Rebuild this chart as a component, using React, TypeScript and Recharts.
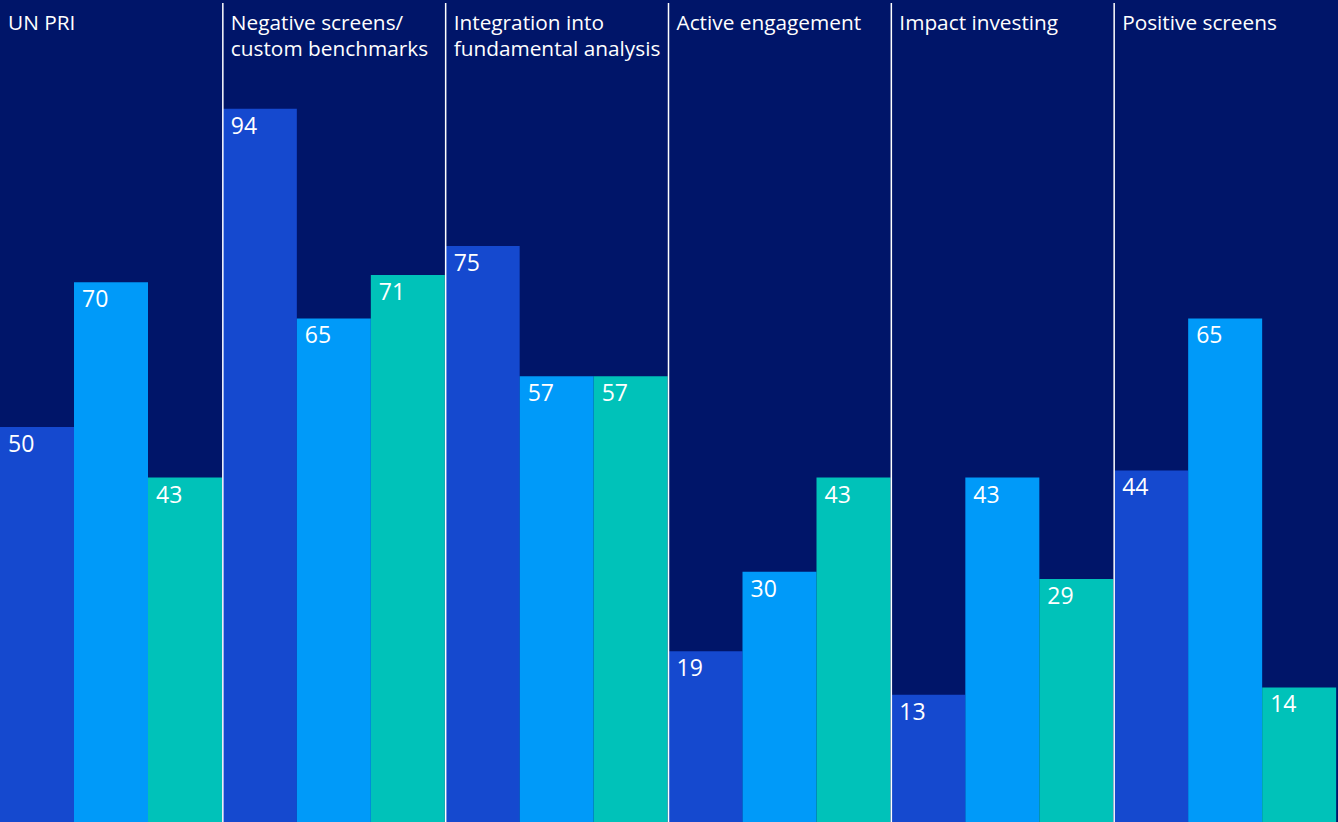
import { BarChart, Bar, XAxis, YAxis, LabelList } from "recharts";

// Approaches to responsible investing (% of respondents)
const categories = [
	"UN PRI",
	"Negative screens/\ncustom benchmarks",
	"Integration into\nfundamental analysis",
	"Active engagement",
	"Impact investing",
	"Positive screens",
];
const seriesA = [50, 94, 75, 19, 13, 44];
const seriesB = [70, 65, 57, 30, 43, 65];
const seriesC = [43, 71, 57, 43, 29, 14];

const colors = { a: "#1549CF", b: "#009AF9", c: "#00C2B9" };
const BG = "#001569";
const FONT = "'Open Sans', 'Noto Sans', sans-serif";

// axis floor sits a little below zero so the bars run off the bottom edge
const Y_MIN = -4.6;
const Y_MAX = 108.6;

const CHART_W = 1337;
const CHART_H = 822;
const TOP = 3;

const data = categories.map((category, i) => ({
	category,
	a: seriesA[i],
	b: seriesB[i],
	c: seriesC[i],
}));

function ValueLabel(props: any) {
	const { x, y, value } = props;
	if (x == null || y == null) return null;
	return (
		<text
			x={Number(x) + 8}
			y={Number(y) + 25}
			fill="#ffffff"
			fontSize={23}
			fontFamily={FONT}
		>
			{value}
		</text>
	);
}

// group title plus the white divider on the left of each group
function GroupHeader(props: any) {
	const { x, value, index } = props;
	if (x == null) return null;
	const lines = String(value).split("\n");
	return (
		<g>
			{index > 0 && (
				<line
					x1={Number(x)}
					x2={Number(x)}
					y1={TOP}
					y2={CHART_H}
					stroke="#ffffff"
					strokeWidth={1.5}
				/>
			)}
			{lines.map((line, i) => (
				<text
					key={i}
					x={Number(x) + 8}
					y={30 + i * 26}
					fill="#ffffff"
					fontSize={20.8}
					fontFamily={FONT}
				>
					{line}
				</text>
			))}
		</g>
	);
}

export default function App() {
	return (
		<div
			style={{
				position: "fixed",
				left: 0,
				top: 0,
				width: 1338,
				height: 822,
				background: BG,
				overflow: "hidden",
			}}
		>
			<BarChart
				width={CHART_W}
				height={CHART_H}
				data={data}
				margin={{ top: TOP, right: 0, left: 0, bottom: 0 }}
				barGap={0}
				barCategoryGap={0}
			>
				<XAxis dataKey="category" hide />
				<YAxis hide type="number" domain={[Y_MIN, Y_MAX]} allowDataOverflow />
				<Bar
					dataKey={(d: any) => [Y_MIN, d.a]}
					fill={colors.a}
					isAnimationActive={false}
				>
					<LabelList dataKey="a" content={<ValueLabel />} />
					<LabelList dataKey="category" content={<GroupHeader />} />
				</Bar>
				<Bar
					dataKey={(d: any) => [Y_MIN, d.b]}
					fill={colors.b}
					isAnimationActive={false}
				>
					<LabelList dataKey="b" content={<ValueLabel />} />
				</Bar>
				<Bar
					dataKey={(d: any) => [Y_MIN, d.c]}
					fill={colors.c}
					isAnimationActive={false}
				>
					<LabelList dataKey="c" content={<ValueLabel />} />
				</Bar>
			</BarChart>
		</div>
	);
}
